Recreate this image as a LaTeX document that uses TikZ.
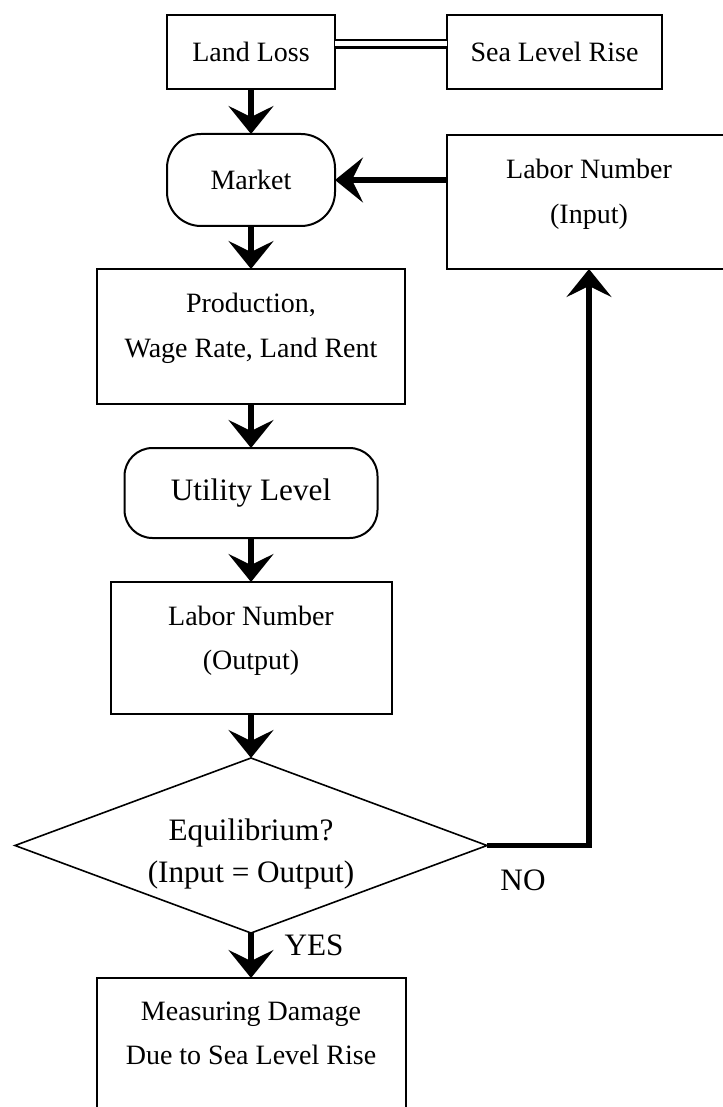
\documentclass[tikz,border=0pt]{standalone}
\usepackage{fontspec}
\setmainfont{Liberation Serif}
\usetikzlibrary{arrows.meta,shapes.geometric,positioning}

\newcommand{\boxfont}{\fontsize{14}{22.3}\selectfont}
\newcommand{\bigboxfont}{\fontsize{15.6}{21.3}\selectfont}
% two centred lines, the depth argument fixes where the first baseline sits
\newcommand{\twolines}[3]{\raisebox{0pt}[0pt][#3]{\begin{tabular}[t]{@{}c@{}}#1\\#2\end{tabular}}}

\tikzset{
  flowbox/.style={draw, line width=1pt, inner sep=0pt, outer sep=0pt, font=\boxfont},
  roundbox/.style={flowbox, rounded corners=14pt},
  decision/.style={draw, diamond, line width=0.8pt, inner sep=0pt, outer sep=0pt, shape aspect=2.7, font=\bigboxfont},
  flowarrow/.style={line width=2.8pt, -{Stealth[length=14pt,width=22.5pt,inset=5.5pt]}},
  flowlabel/.style={font=\bigboxfont, inner sep=0pt},
}

\begin{document}
\begin{tikzpicture}[x=0.5pt, y=-0.5pt, node distance=22pt]
\useasboundingbox (0,0) rectangle (722,1107);

% top row
\node[flowbox, minimum width=84pt, minimum height=37pt] (landloss) at (251,52) {Land Loss};
\node[flowbox, minimum width=107.5pt, minimum height=37pt, right=56pt of landloss] (sealevel) {Sea Level Rise};

% main column
\node[roundbox, rounded corners=17pt, minimum width=84pt, minimum height=46pt, below=22.5pt of landloss] (market) {Market};
\node[flowbox, minimum width=154pt, minimum height=67.5pt, below=21.5pt of market] (production) {\twolines{Production,}{Wage Rate, Land Rent}{23.8pt}};
\node[roundbox, minimum width=126.5pt, minimum height=45pt, font=\bigboxfont, below=of production] (utility) {Utility Level};
\node[flowbox, minimum width=140.5pt, minimum height=66pt, below=of utility] (laborout) {\twolines{Labor Number}{(Output)}{23pt}};
\node[decision, minimum width=236pt, minimum height=87.5pt, below=of laborout] (equil) {\twolines{Equilibrium?}{(Input = Output)}{5.3pt}};
\node[flowbox, minimum width=154.5pt, minimum height=67.5pt, below=22.5pt of equil] (damage) {\twolines{Measuring Damage}{Due to Sea Level Rise}{25.5pt}};

% feedback box
\node[flowbox, minimum width=142pt, minimum height=67pt, anchor=north west] (laborin) at (447,135) {\twolines{Labor Number}{(Input)}{23pt}};

% connectors
\draw[line width=1.35pt, double, double distance=2.5pt] ([yshift=4.1pt]landloss.east) -- ([yshift=4.1pt]sealevel.west);
\draw[flowarrow] (landloss) -- (market);
\draw[flowarrow] (market) -- (production);
\draw[flowarrow] (production) -- (utility);
\draw[flowarrow] (utility) -- (laborout);
\draw[flowarrow] (laborout) -- (equil);
\draw[flowarrow] (laborin.west |- market.east) -- (market.east);
\draw[flowarrow] (equil.east) -| (laborin.south);
\draw[flowarrow] (equil) -- (damage);

\node[flowlabel] (nolabel) at (523,880) {NO};
\node[flowlabel] (yeslabel) at (314,945) {YES};
\end{tikzpicture}
\end{document}
